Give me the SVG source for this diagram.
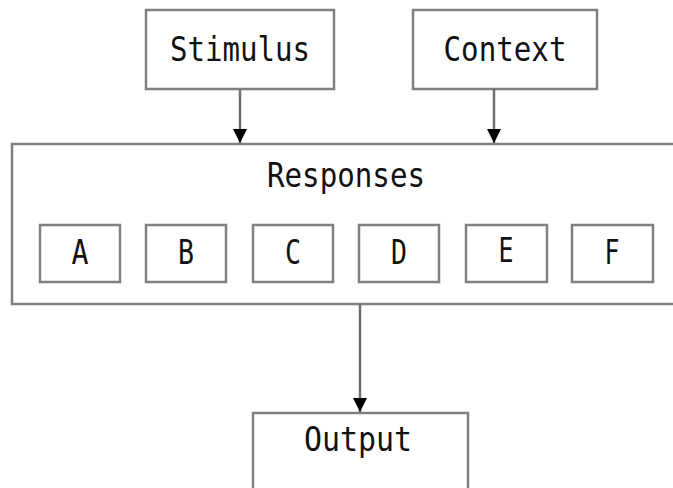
<svg xmlns="http://www.w3.org/2000/svg" width="673" height="488" viewBox="0 0 673 488">
<style>
.box{fill:#fff;stroke:#808080;stroke-width:2.5}
.lbl{font-family:"DejaVu Sans Mono","Liberation Mono",monospace;font-size:33px;fill:#111;text-anchor:middle}
.con{stroke:#707070;stroke-width:2.5;fill:none}
</style>
<defs>
<marker id="arr" viewBox="0 0 14 14" refX="14" refY="7" markerWidth="14" markerHeight="14" markerUnits="userSpaceOnUse" orient="auto">
<path d="M0,0 L14,7 L0,14 Z" fill="#000"/>
</marker>
</defs>
<rect width="673" height="488" fill="#fff"/>
<g id="stimulus"><rect class="box" x="146" y="10" width="188" height="79"/><text class="lbl" x="240" y="61" textLength="140" lengthAdjust="spacingAndGlyphs">Stimulus</text></g>
<g id="context"><rect class="box" x="413" y="10" width="184" height="79"/><text class="lbl" x="505" y="61" textLength="123" lengthAdjust="spacingAndGlyphs">Context</text></g>
<g id="responses"><rect class="box" x="12" y="144" width="680" height="160"/><text class="lbl" x="346" y="187" textLength="158" lengthAdjust="spacingAndGlyphs">Responses</text></g>
<g id="a"><rect class="box" x="40" y="225" width="80" height="57"/><text class="lbl" x="80" y="264" textLength="17" lengthAdjust="spacingAndGlyphs">A</text></g>
<g id="b"><rect class="box" x="146" y="225" width="80" height="57"/><text class="lbl" x="186" y="264" textLength="16" lengthAdjust="spacingAndGlyphs">B</text></g>
<g id="c"><rect class="box" x="253" y="225" width="80" height="57"/><text class="lbl" x="293" y="264" textLength="16" lengthAdjust="spacingAndGlyphs">C</text></g>
<g id="d"><rect class="box" x="359" y="225" width="80" height="57"/><text class="lbl" x="399" y="264" textLength="16" lengthAdjust="spacingAndGlyphs">D</text></g>
<g id="e"><rect class="box" x="466" y="225" width="81" height="57"/><text class="lbl" x="506" y="262" textLength="15" lengthAdjust="spacingAndGlyphs">E</text></g>
<g id="f"><rect class="box" x="572" y="225" width="81" height="57"/><text class="lbl" x="612" y="264" textLength="15" lengthAdjust="spacingAndGlyphs">F</text></g>
<g id="output"><rect class="box" x="253" y="413" width="215" height="90"/><text class="lbl" x="358" y="451" textLength="108" lengthAdjust="spacingAndGlyphs">Output</text></g>
<g id="connectors">
<line class="con" x1="240" y1="89" x2="240" y2="143" marker-end="url(#arr)"/>
<line class="con" x1="494" y1="89" x2="494" y2="143" marker-end="url(#arr)"/>
<line class="con" x1="360" y1="304" x2="360" y2="412" marker-end="url(#arr)"/>
</g>
</svg>
